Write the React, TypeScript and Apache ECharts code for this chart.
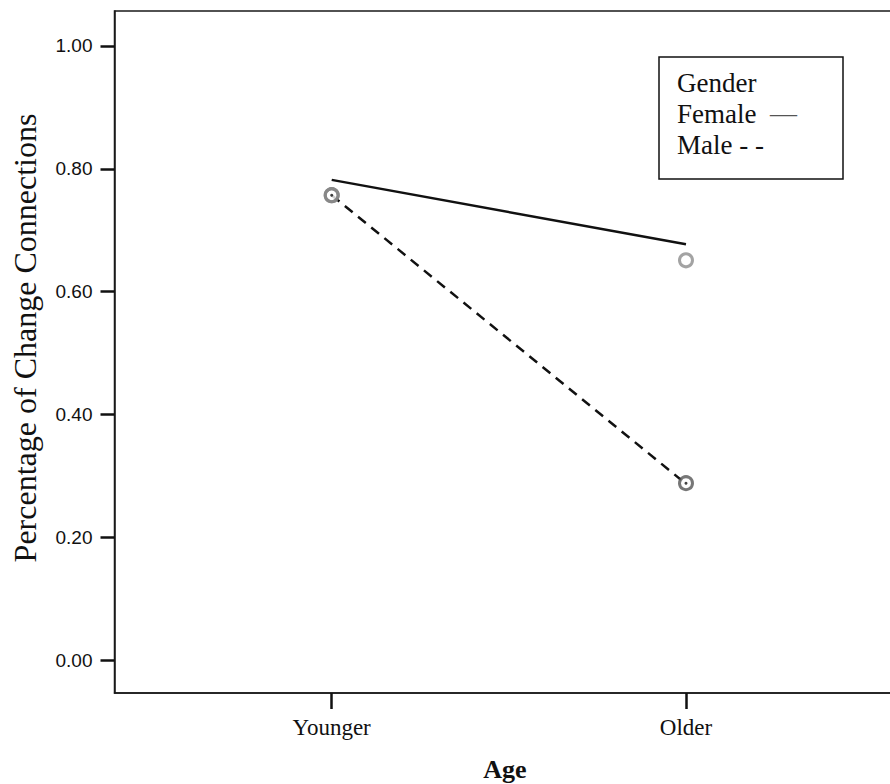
import React, { useEffect, useRef } from "react";
import * as echarts from "echarts";

const categories = ["Younger", "Older"];
const femaleFit = [0.782, 0.677];
const maleFit = [0.757, 0.287];
const femaleObserved = [0.757, 0.651];
const maleObserved = [0.757, 0.288];
const yTicks = [0, 0.2, 0.4, 0.6, 0.8, 1.0];
const xTicks = categories.map((_, i) => i);

const serif = "'Liberation Serif', 'Times New Roman', serif";
const sans = "'Liberation Sans', Arial, sans-serif";

const pairs = (vals: number[]) => vals.map((v, i) => [i, v]);

export default function App() {
  const ref = useRef<HTMLDivElement>(null);
  useEffect(() => {
    if (!ref.current) return;
    const chart = echarts.init(ref.current, undefined, { renderer: "svg" });
    chart.setOption({
      animation: false,
      backgroundColor: "#ffffff",
      grid: {
        left: 114.5,
        top: 11,
        bottom: 91,
        right: 66,
        show: true,
        borderColor: "#1a1a1a",
        borderWidth: 1.5,
        containLabel: false,
      },
      xAxis: {
        type: "value",
        min: -0.613,
        max: 1.7,
        axisLine: { show: true, onZero: false, lineStyle: { color: "#1a1a1a", width: 1.5 } },
        axisTick: { show: true, customValues: xTicks, length: 16, lineStyle: { color: "#111", width: 2.5 } },
        axisLabel: {
          customValues: xTicks,
          fontFamily: serif,
          fontSize: 23,
          color: "#111",
          margin: 23,
          formatter: (v: number) => categories[Math.round(v)] ?? "",
        },
        splitLine: { show: false },
      },
      yAxis: {
        type: "value",
        min: -0.0537,
        max: 1.057,
        axisLine: { show: true, onZero: false, lineStyle: { color: "#1a1a1a", width: 1.5 } },
        axisTick: { show: true, length: 14, customValues: yTicks, lineStyle: { color: "#111", width: 2.5 } },
        axisLabel: {
          customValues: yTicks,
          fontFamily: sans,
          fontSize: 19,
          color: "#111",
          margin: 22,
          formatter: (v: number) => v.toFixed(2),
        },
        splitLine: { show: false },
      },
      series: [
        {
          name: "Female",
          type: "line",
          data: pairs(femaleFit),
          symbol: "none",
          lineStyle: { color: "#111", width: 2.5, type: "solid" },
          z: 3,
        },
        {
          name: "Male",
          type: "line",
          data: pairs(maleFit),
          symbol: "none",
          lineStyle: { color: "#111", width: 2.5, type: [10, 7] },
          z: 3,
        },
        {
          name: "Male observed",
          type: "scatter",
          data: pairs(maleObserved),
          symbol: "circle",
          symbolSize: 13,
          itemStyle: { color: "#ffffff", borderColor: "#555555", borderWidth: 3 },
          z: 4,
        },
        {
          name: "Male observed center",
          type: "scatter",
          data: pairs(maleObserved),
          symbol: "circle",
          symbolSize: 3,
          itemStyle: { color: "#111" },
          z: 5,
        },
        {
          name: "Female observed",
          type: "scatter",
          data: pairs(femaleObserved),
          symbol: "circle",
          symbolSize: 13,
          itemStyle: { color: "rgba(255,255,255,0)", borderColor: "#8c8c8c", borderWidth: 3 },
          z: 6,
        },
      ],
      graphic: [
        {
          type: "text",
          x: 25,
          y: 338,
          rotation: Math.PI / 2,
          style: {
            text: "Percentage of Change Connections",
            font: `32px ${serif}`,
            fill: "#111",
            align: "center",
            verticalAlign: "middle",
          },
        },
        {
          type: "text",
          x: 505,
          y: 769,
          style: {
            text: "Age",
            font: `bold 26px ${serif}`,
            fill: "#111",
            align: "center",
            verticalAlign: "middle",
          },
        },
        {
          type: "rect",
          shape: { x: 659, y: 57, width: 184, height: 122 },
          style: { fill: "#fff", stroke: "#111", lineWidth: 1.5 },
          z: 10,
        },
        {
          type: "text",
          x: 677,
          y: 83,
          z: 11,
          style: { text: "Gender", font: `27px ${serif}`, fill: "#111", verticalAlign: "middle" },
        },
        {
          type: "text",
          x: 677,
          y: 114,
          z: 11,
          style: { text: "Female", font: `27px ${serif}`, fill: "#111", verticalAlign: "middle" },
        },
        {
          type: "text",
          x: 770,
          y: 113,
          z: 11,
          style: { text: "—", font: `27px ${serif}`, fill: "#555", verticalAlign: "middle" },
        },
        {
          type: "text",
          x: 677,
          y: 145,
          z: 11,
          style: { text: "Male - -", font: `27px ${serif}`, fill: "#111", verticalAlign: "middle" },
        },
      ],
    });
    return () => chart.dispose();
  }, []);
  return (
    <div style={{ position: "fixed", left: 0, top: 0, width: 890, height: 784, overflow: "hidden" }}>
      <div ref={ref} style={{ width: 1000, height: 784 }} />
    </div>
  );
}
